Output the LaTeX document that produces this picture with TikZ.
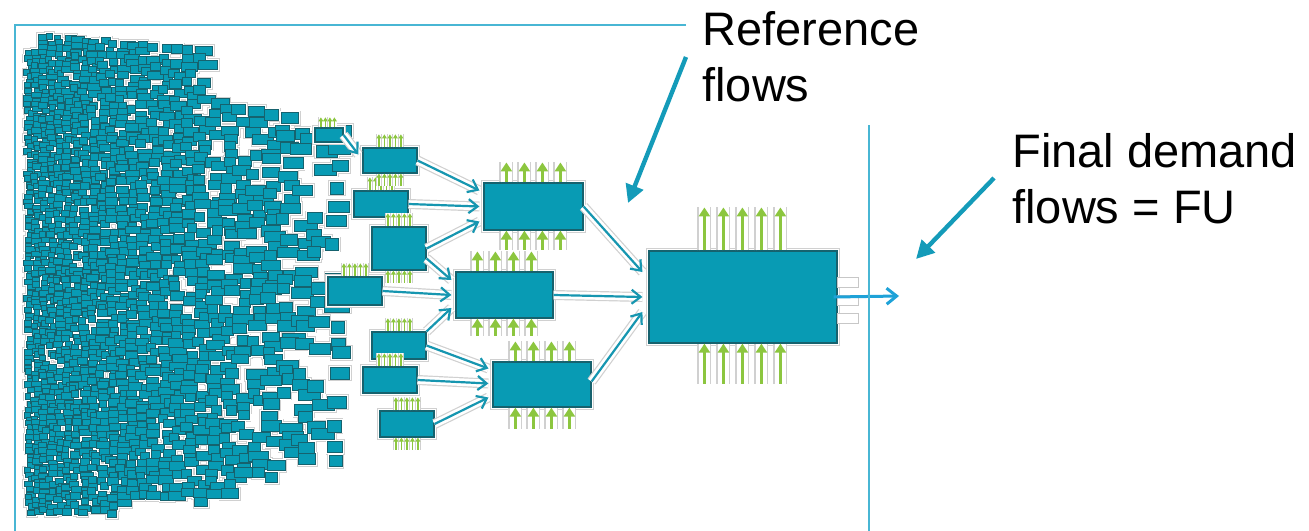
\documentclass[tikz,border=0pt]{standalone}
\usepackage{fontspec}
\setmainfont{Liberation Sans}
\usetikzlibrary{arrows.meta,calc}

\definecolor{boxfill}{RGB}{8,155,180}
\definecolor{boxline}{RGB}{22,98,110}
\definecolor{flowc}{RGB}{22,150,176}
\definecolor{outc}{RGB}{30,162,216}
\definecolor{leaf}{RGB}{140,198,63}
\definecolor{halo}{RGB}{208,208,208}
\definecolor{framec}{RGB}{72,182,212}
\definecolor{notec}{RGB}{20,155,185}

\tikzset{
  proc/.style={
    % The shape:
    shape=rectangle,inner sep=0pt,
    % The border:
    draw=boxline,line width=0.6pt,
    % The filling:
    fill=boxfill,
    % and a glow round it
    preaction={draw=halo,line width=2.6pt},
    preaction={draw=white,line width=1.8pt}}}
\tikzset{
  stub/.style={
    rectangle,inner sep=0pt,minimum width=10.5pt,minimum height=5pt,
    draw=black!22,line width=0.4pt,fill=white}}
\tikzset{
  % flows between processes
  techflow/.style={
    draw=flowc,line width=1.1pt,-{Straight Barb[length=4.5pt,width=7pt]},
    preaction={draw=halo,line width=5pt,-},
    preaction={draw=white,line width=3.8pt,-}},
  outflow/.style={
    draw=outc,line width=1.5pt,-{Straight Barb[length=5pt,width=8pt]}},
  % flows to and from nature
  emitflow/.style={
    draw=leaf,line width=1.4pt,-{Triangle[length=4.5pt,width=5.5pt]},
    preaction={draw=halo,line width=7pt,-},
    preaction={draw=white,line width=5.8pt,-}},
  tinyemit/.style={
    draw=leaf,line width=0.6pt,-{Triangle[length=2pt,width=2.4pt]},
    preaction={draw=halo,line width=2.8pt,-},
    preaction={draw=white,line width=2.1pt,-}},
  % annotations
  pointer/.style={draw=notec,line width=2.2pt,-{Triangle[length=9pt,width=9pt]}},
  notetext/.style={font=\fontsize{23.5}{28}\selectfont,align=left,inner sep=0pt}}

% the cloud of upstream processes, one pass per look
\newcommand{\cloudpass}[1]{%
  \pgfmathsetseed{2718}%
  \foreach \k in {0,...,27}{%
    \pgfmathsetmacro{\cx}{210*exp(0.033*\k)-184}%
    \pgfmathsetmacro{\bw}{8+0.04*\cx}%
    \pgfmathsetmacro{\bh}{0.5*\bw+1}%
    \pgfmathsetmacro{\ytop}{ifthenelse(\cx<40,50,ifthenelse(\cx<205,34+(\cx-40)*0.09,ifthenelse(\cx<300,100+(\cx-205)*0.2,124)))}%
    \pgfmathsetmacro{\ybot}{ifthenelse(\cx<110,517,ifthenelse(\cx<230,505,ifthenelse(\cx<300,482,472)))-\bh}%
    \pgfmathsetmacro{\ynext}{\ytop+0.85*\bh}%
    \pgfmathsetmacro{\pk}{ifthenelse(\cx<160,0.97,ifthenelse(\cx<300,0.97-(\cx-160)*0.0025,0.45))}%
    \foreach \cy in {\ytop,\ynext,...,\ybot}{%
      \pgfmathsetmacro{\keep}{rnd}%
      \pgfmathsetmacro{\jx}{\cx+(rnd-0.5)*0.5*\bw}%
      \pgfmathsetmacro{\jy}{\cy+(rnd-0.5)*0.6*\bh}%
      \pgfmathsetmacro{\ww}{\bw*(0.6+0.6*rnd)}%
      \ifdim\keep pt<\pk pt\path[#1] (\jx,\jy) rectangle ++(\ww,\bh);\fi
    }%
  }%
}

\begin{document}
\begin{tikzpicture}[x=0.5pt,y=-0.5pt]
	\useasboundingbox (0,0) rectangle (1309,530);
	% Upstream cloud
	\cloudpass{draw=halo,line width=2.2pt}
	\cloudpass{draw=white,fill=white,line width=1.3pt}
	\cloudpass{draw=boxline,fill=boxfill,line width=0.5pt}
	% Suppliers
	\node[proc,minimum width=14pt,minimum height=7pt] (p0) at (329,135) {};
	\node[proc,minimum width=27pt,minimum height=12.5pt] (p1) at (390,160.5) {};
	\node[proc,minimum width=27pt,minimum height=13pt] (p2) at (381,204) {};
	\node[proc,minimum width=27pt,minimum height=21.5pt] (p3) at (399,248.5) {};
	\node[proc,minimum width=27pt,minimum height=14pt] (p4) at (355,291) {};
	\node[proc,minimum width=27pt,minimum height=13.5pt] (p5) at (399,345.5) {};
	\node[proc,minimum width=27pt,minimum height=13pt] (p6) at (390,380) {};
	\node[proc,minimum width=27pt,minimum height=13pt] (p7) at (407,424) {};
	% Second tier
	\node[proc,minimum width=49.5pt,minimum height=23.5pt] (q1) at (533.5,206.5) {};
	\node[proc,minimum width=48.5pt,minimum height=23pt] (q2) at (504.5,295) {};
	\node[proc,minimum width=49pt,minimum height=22.5pt] (q3) at (542,384.5) {};
	% Foreground process
	\node[proc,minimum width=94pt,minimum height=46pt] (fu) at (743,297) {};
	\node[stub] (stub1) at (847.5,282) {};
	\node[stub] (stub2) at (847.5,300) {};
	\node[stub] (stub3) at (847.5,318) {};
	\coordinate (fuout) at (899,296);
	% Elementary flows of the suppliers
	\foreach \j in {1,...,4}
		\draw[tinyemit] ($(p0.north west)+(2+4.5*\j,0)$) -- ++(0,-10);
	\foreach \n in {p1,p2,p3,p4,p5,p6,p7}
		\foreach \j in {1,...,5}
			\draw[tinyemit] ($(\n.north west)+(11+5.5*\j,0)$) -- ++(0,-13);
	\foreach \n in {p1,p3,p7}
		\foreach \j in {1,...,5}
			\draw[tinyemit] ($(\n.south west)+(11+5.5*\j,12)$) -- ++(0,-12);
	% Elementary flows of the second tier
	\foreach \j in {1,...,4}{
		\draw[emitflow] ($(q1.north west)+(5+18*\j,0)$) -- ++(0,-20);
		\draw[emitflow] ($(q1.south west)+(5+18*\j,19)$) -- ++(0,-19);
		\draw[emitflow] ($(q2.north west)+(4+18*\j,0)$) -- ++(0,-20);
		\draw[emitflow] ($(q2.south west)+(4+18*\j,17)$) -- ++(0,-17);
		\draw[emitflow] ($(q3.north west)+(5+18*\j,0)$) -- ++(0,-20);
		\draw[emitflow] ($(q3.south west)+(5+18*\j,21)$) -- ++(0,-21);
	}
	% Elementary flows of the foreground process
	\foreach \j in {1,...,5}{
		\draw[emitflow] ($(fu.north west)+(37+19*\j,0)$) -- ++(0,-43);
		\draw[emitflow] ($(fu.south west)+(37+19*\j,40)$) -- ++(0,-40);
	}
	% Lines into p1
	\draw[techflow] (p0.east) -- ($(p1.west)+(-4,-6)$);
	% Lines into q1
	\draw[techflow] (p1.east) -- ($(q1.west)+(-4,-16)$);
	\draw[techflow] (p2.east) -- ($(q1.west)+(-4,0)$);
	\draw[techflow] (p3.east) -- ($(q1.west)+(-4,15)$);
	% Lines into q2
	\draw[techflow] ($(p3.east)+(0,10)$) -- ($(q2.west)+(-4,-15)$);
	\draw[techflow] (p4.east) -- ($(q2.west)+(-4,0)$);
	\draw[techflow] (p5.north east) -- ($(q2.west)+(-4,13)$);
	% Lines into q3
	\draw[techflow] (p5.east) -- ($(q3.west)+(-4,-16)$);
	\draw[techflow] (p6.east) -- ($(q3.west)+(-4,-1)$);
	\draw[techflow] (p7.east) -- ($(q3.west)+(-4,13)$);
	% Lines into fu
	\draw[techflow] (q1.east) -- ($(fu.west)+(-6,-25)$);
	\draw[techflow] (q2.east) -- ($(fu.west)+(-6,0)$);
	\draw[techflow] ($(q3.east)+(0,-3)$) -- ($(fu.west)+(-6,15)$);
	% Line out of fu
	\draw[outflow] ([xshift=-2pt]fu.east) -- (fuout);
	% System frame
	\draw[framec,line width=1pt] (686,25) -- (15,25) -- (15,531);
	\draw[framec,line width=1pt] (869,125) -- (869,531);
	% Notes
	\node[notetext,anchor=base west] (reflabel) at (702,101) {Reference\\flows};
	\node[notetext,anchor=base west] (fulabel) at (1012,223) {Final demand\\flows = FU};
	\coordinate (reftail) at (686,57);
	\coordinate (reftip) at (628,203);
	\coordinate (futail) at (994,178);
	\coordinate (futip) at (916,259);
	\draw[pointer] (reftail) -- (reftip);
	\draw[pointer] (futail) -- (futip);
\end{tikzpicture}
\end{document}
